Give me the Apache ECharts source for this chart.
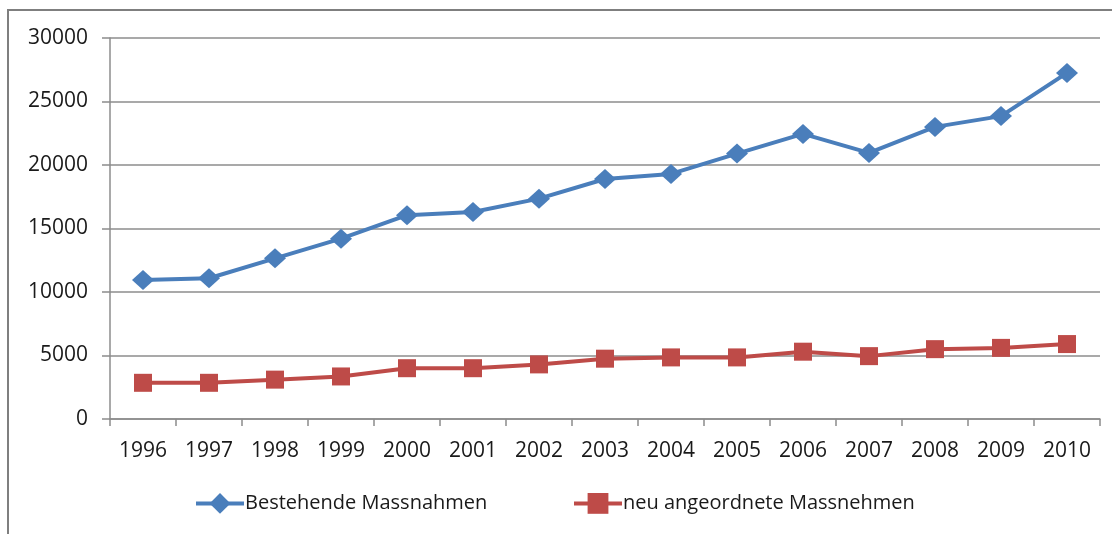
<!DOCTYPE html>
<html>
<head>
<meta charset="utf-8">
<script src="https://cdn.jsdelivr.net/npm/echarts@6/dist/echarts.min.js"></script>
<style>
  html, body { margin: 0; padding: 0; background: #fff; }
  #chart { width: 1112px; height: 534px; }
</style>
</head>
<body>
<div id="chart"></div>
<script>
// Daten
const years = ["1996", "1997", "1998", "1999", "2000", "2001", "2002", "2003",
  "2004", "2005", "2006", "2007", "2008", "2009", "2010"];
const bestehende = [10950, 11080, 12650, 14200, 16050, 16300, 17350, 18900,
  19300, 20900, 22450, 20950, 23000, 23850, 27250];
const neu = [2850, 2850, 3100, 3350, 4000, 4000, 4300, 4750,
  4850, 4850, 5300, 4950, 5500, 5600, 5900];
const yTicks = [0, 5000, 10000, 15000, 20000, 25000, 30000];

const fontFam = "'Open Sans', 'DejaVu Sans', sans-serif";
const textColor = "#1a1a1a";
const gridColor = "#8c8c8c";

const legendBase = {
  top: 488,
  itemWidth: 48,
  itemHeight: 26,
  itemGap: 0,
  lineStyle: { width: 4 },
  textStyle: { fontFamily: fontFam, fontSize: 20, color: textColor, padding: [0, 0, 0, -4] }
};

const chart = echarts.init(document.getElementById("chart"));
const option = {
  backgroundColor: "#fff",
  animation: false,
  graphic: [
    {
      type: "rect",
      shape: { x: 8, y: 10, width: 1200, height: 600 },
      style: { fill: "none", stroke: "#7f7f7f", lineWidth: 2 },
      silent: true
    }
  ],
  grid: { left: 110, right: 12, top: 38, bottom: 115 },
  legend: [
    Object.assign({ data: ["Bestehende Massnahmen"], left: 189 }, legendBase),
    Object.assign({ data: ["neu angeordnete Massnehmen"], left: 567 }, legendBase)
  ],
  xAxis: {
    type: "category",
    data: years,
    boundaryGap: true,
    axisLine: { show: true, lineStyle: { color: gridColor, width: 1.5 } },
    axisTick: { show: true, length: 7, lineStyle: { color: gridColor, width: 1.5 } },
    axisLabel: { fontFamily: fontFam, fontSize: 21, color: textColor, margin: 22 }
  },
  yAxis: {
    type: "value",
    min: yTicks[0],
    max: yTicks[yTicks.length - 1],
    interval: yTicks[1] - yTicks[0],
    axisLine: { show: true, lineStyle: { color: gridColor, width: 1.5 } },
    axisTick: { show: true, length: 8, lineStyle: { color: gridColor, width: 1.5 } },
    axisLabel: {
      fontFamily: fontFam, fontSize: 21, color: textColor, margin: 22,
      formatter: (v) => String(v)
    },
    splitLine: { show: true, lineStyle: { color: gridColor, width: 1.5 } }
  },
  series: [
    {
      name: "Bestehende Massnahmen",
      type: "line",
      data: bestehende,
      symbol: "diamond",
      symbolSize: [22, 20],
      itemStyle: { color: "#4a7ebb" },
      lineStyle: { color: "#4a7ebb", width: 4 }
    },
    {
      name: "neu angeordnete Massnehmen",
      type: "line",
      data: neu,
      symbol: "rect",
      symbolSize: 18,
      itemStyle: { color: "#be4b48" },
      lineStyle: { color: "#be4b48", width: 4 }
    }
  ]
};
chart.setOption(option);
</script>
</body>
</html>
